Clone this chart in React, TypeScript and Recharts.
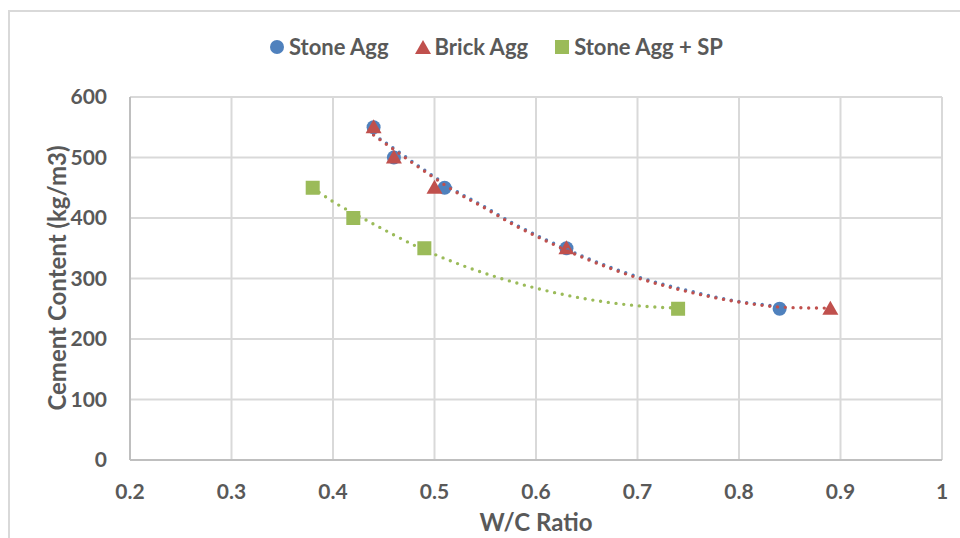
import React from 'react';
import { ScatterChart, Scatter, XAxis, YAxis, CartesianGrid, Legend } from 'recharts';

// ---- data ----
const stoneX = [0.44, 0.46, 0.51, 0.63, 0.84];
const stoneY = [550, 500, 450, 350, 250];
const brickX = [0.44, 0.46, 0.5, 0.63, 0.89];
const brickY = [550, 500, 450, 350, 250];
const spX = [0.38, 0.42, 0.49, 0.74];
const spY = [450, 400, 350, 250];

// trendlines (polynomial)
const stoneTrendX = [0.44, 0.46, 0.48, 0.5, 0.52, 0.55, 0.58, 0.61, 0.65, 0.7, 0.75, 0.8, 0.84];
const stoneTrendY = [538, 515, 491, 468, 446, 418, 389, 364, 334, 303, 280, 262, 254];
const brickTrendX = [0.44, 0.46, 0.48, 0.5, 0.52, 0.55, 0.58, 0.61, 0.65, 0.7, 0.75, 0.8, 0.85, 0.89];
const brickTrendY = [537, 513, 489, 466, 444, 416, 387, 362, 332, 301, 278, 261, 252, 251];
const spTrendX = [0.38, 0.4, 0.42, 0.44, 0.46, 0.48, 0.5, 0.53, 0.56, 0.6, 0.65, 0.7, 0.74];
const spTrendY = [450, 427, 408, 390, 372, 355, 340, 320, 303, 284, 266, 255, 251];

const xTicks = [0.2, 0.3, 0.4, 0.5, 0.6, 0.7, 0.8, 0.9, 1];
const yTicks = [0, 100, 200, 300, 400, 500, 600];
const seriesNames = ['Stone Agg', 'Brick Agg', 'Stone Agg + SP'];

const BLUE = '#4F81BD';
const RED = '#C0504D';
const GREEN = '#9BBB59';
const TEXT = '#595959';
const FONT = 'Lato, "Open Sans", sans-serif';

const toPoints = (xs: number[], ys: number[]) => xs.map((x, i) => ({ x, y: ys[i] }));

const CircleShape = (p: any) => <circle cx={p.cx} cy={p.cy} r={7} fill={BLUE} />;
const TriangleShape = (p: any) => (
  <path d={`M${p.cx},${p.cy - 8} L${p.cx + 8},${p.cy + 6} L${p.cx - 8},${p.cy + 6} Z`} fill={RED} />
);
const SquareShape = (p: any) => <rect x={p.cx - 7} y={p.cy - 7} width={14} height={14} fill={GREEN} />;
const NoShape = () => <g />;

const dotted = (color: string) => ({
  stroke: color,
  strokeWidth: 3.4,
  strokeDasharray: '0 7.8',
  strokeLinecap: 'round' as const,
  fill: 'none',
});

const LegendBox = () => {
  const icons = [
    <svg width={16} height={16} key="c"><circle cx={8} cy={8} r={7} fill={BLUE} /></svg>,
    <svg width={16} height={16} key="t"><path d="M8,1 L16,15 L0,15 Z" fill={RED} /></svg>,
    <svg width={16} height={16} key="s"><rect x={1} y={1} width={14} height={14} fill={GREEN} /></svg>,
  ];
  return (
    <div style={{ display: 'flex', alignItems: 'center', fontFamily: FONT, fontWeight: 700, fontSize: 22, color: TEXT }}>
      {seriesNames.map((n, i) => (
        <div key={n} style={{ display: 'flex', alignItems: 'center', marginRight: 26 }}>
          {icons[i]}
          <span style={{ marginLeft: 4, lineHeight: '26px' }}>{n}</span>
        </div>
      ))}
    </div>
  );
};

const YTitle = () => (
  <text
    x={0}
    y={0}
    transform={`translate(${57 + 8.5}, 278) rotate(-90)`}
    textAnchor="middle"
    fill={TEXT}
    fontFamily={FONT}
    fontWeight={700}
    fontSize={24}
  >
    Cement Content (kg/m3)
  </text>
);

const XTitle = () => (
  <text x={536} y={531} textAnchor="middle" fill={TEXT} fontFamily={FONT} fontWeight={700} fontSize={24}>
    W/C Ratio
  </text>
);

export default function App() {
  return (
    <div style={{ position: 'absolute', left: 0, top: 0, width: 960, height: 538, overflow: 'hidden', background: '#fff' }}>
      <div
        style={{
          position: 'absolute',
          left: 8,
          top: 10,
          width: 1000,
          height: 600,
          border: '2px solid #d9d9d9',
          boxSizing: 'border-box',
        }}
      />
      <div style={{ position: 'absolute', left: 0, top: 0 }}>
        <ScatterChart width={960} height={538} margin={{ top: 97, right: 18, bottom: 0, left: 0 }}>
          <CartesianGrid stroke="#d9d9d9" strokeWidth={2} />
          <XAxis
            type="number"
            dataKey="x"
            domain={[0.2, 1]}
            ticks={xTicks}
            interval={0}
            height={78}
            tickSize={0}
            tickMargin={24}
            axisLine={{ stroke: '#bfbfbf', strokeWidth: 2 }}
            tick={{ fill: TEXT, fontFamily: FONT, fontWeight: 700, fontSize: 21 }}
            label={<XTitle />}
            allowDataOverflow
          />
          <YAxis
            type="number"
            dataKey="y"
            domain={[0, 600]}
            ticks={yTicks}
            interval={0}
            width={130}
            tickSize={0}
            tickMargin={23}
            axisLine={{ stroke: '#bfbfbf', strokeWidth: 2 }}
            tick={{ fill: TEXT, fontFamily: FONT, fontWeight: 700, fontSize: 21 }}
            label={<YTitle />}
            allowDataOverflow
          />
          <Legend
            verticalAlign="middle"
            align="center"
            content={() => <LegendBox />}
            wrapperStyle={{ top: 34, left: 269, width: 520 }}
          />
          <Scatter name={seriesNames[0]} data={toPoints(stoneX, stoneY)} shape={CircleShape} isAnimationActive={false} />
          <Scatter name={seriesNames[1]} data={toPoints(brickX, brickY)} shape={TriangleShape} isAnimationActive={false} />
          <Scatter name={seriesNames[2]} data={toPoints(spX, spY)} shape={SquareShape} isAnimationActive={false} />
          <Scatter
            name="Stone trend"
            legendType="none"
            data={toPoints(stoneTrendX, stoneTrendY)}
            shape={NoShape}
            line={dotted(BLUE)}
            lineJointType="monotoneX"
            isAnimationActive={false}
          />
          <Scatter
            name="Brick trend"
            legendType="none"
            data={toPoints(brickTrendX, brickTrendY)}
            shape={NoShape}
            line={dotted(RED)}
            lineJointType="monotoneX"
            isAnimationActive={false}
          />
          <Scatter
            name="SP trend"
            legendType="none"
            data={toPoints(spTrendX, spTrendY)}
            shape={NoShape}
            line={dotted(GREEN)}
            lineJointType="monotoneX"
            isAnimationActive={false}
          />
        </ScatterChart>
      </div>
    </div>
  );
}
